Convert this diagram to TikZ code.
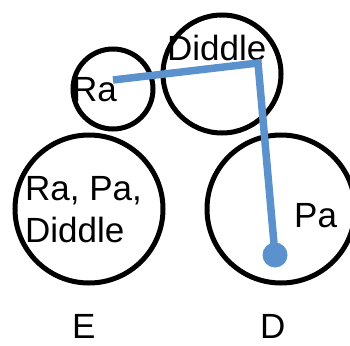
\documentclass[tikz,border=0pt]{standalone}
\usepackage{fontspec}
\setmainfont{Liberation Sans}
\usepackage{xcolor}
\usepackage{tikz}
\usetikzlibrary{positioning}
\definecolor{pathblue}{RGB}{91,146,205}

\begin{document}
\begin{tikzpicture}[x=1pt, y=-1pt,
    ring/.style={circle, draw=black, line width=5pt, inner sep=0pt},
    word/.style={anchor=base west, inner sep=0pt, align=left, font=\fontsize{35}{42}\selectfont}]
    \useasboundingbox (0,0) rectangle (350,345);

    % 1. Các vòng tròn
    \node[ring, minimum size=80pt] (ra) at (113,89) {};
    \node[ring, minimum size=118pt] (diddle) at (222,74) {};
    \node[ring, minimum size=148pt] (setE) at (89,209) {};
    \node[ring, minimum size=148pt] (setD) at (281,209) {};

    % 2. Chữ trong các vòng tròn
    \node[word] (raText) at (72,101) {Ra};
    \node[word] (diddleText) at (167,60) {Diddle};
    \node[word] (allText) at (25,242) {Ra, Pa,\\Diddle};
    \node[word] (paText) at (294,227) {Pa};

    % 3. Đường màu xanh qua các vòng
    \coordinate (start) at (113,80);
    \coordinate (bend) at (258,63);
    \coordinate (tip) at (275,255);
    \draw[pathblue, line width=7.5pt] (start) -- (bend) -- (tip);
    \fill[pathblue] (tip) circle (12.5pt);

    % 4. Nhãn phía dưới
    \node[word] (labelE) at (72,338) {E};
    \node[word] (labelD) at (260,338) {D};

\end{tikzpicture}
\end{document}
